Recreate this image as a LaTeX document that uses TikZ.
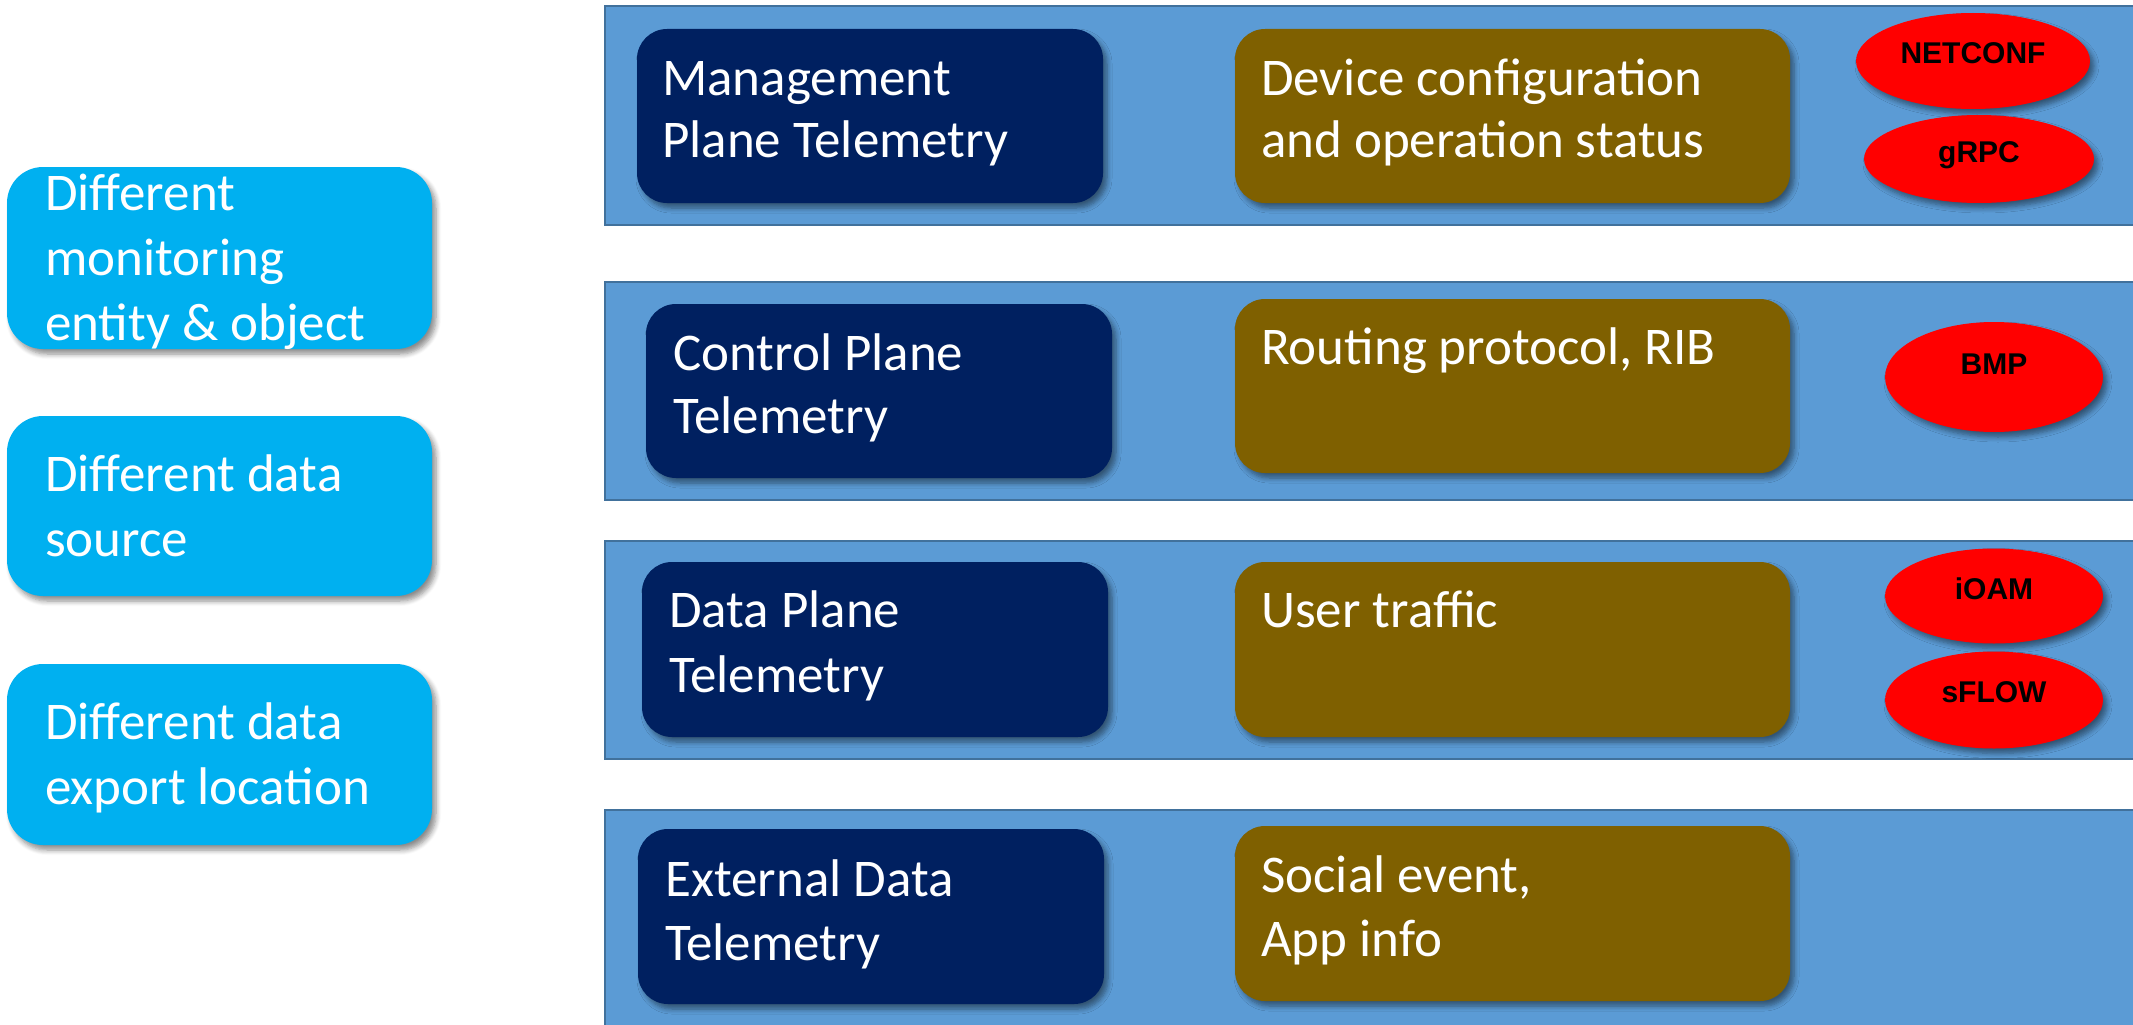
\documentclass[tikz,border=0pt]{standalone}
\usepackage{fontspec}
\setmainfont{Carlito}
\newfontfamily\arialbf{Liberation Sans}[BoldFont={* Bold}]
\usetikzlibrary{shapes.geometric,shadows.blur}
\definecolor{bandfill}{HTML}{5B9BD5}
\definecolor{banddraw}{HTML}{41719C}
\definecolor{navybox}{HTML}{002060}
\definecolor{brownbox}{HTML}{7F6000}
\definecolor{cyanbox}{HTML}{00B0F0}
\definecolor{redell}{HTML}{FF0000}
\newcommand{\firstl}{\rule{0pt}{45pt}}
\tikzset{
  shd/.style={blur shadow={shadow xshift=4pt, shadow yshift=-5pt, shadow blur radius=5pt, shadow blur steps=6, shadow opacity=45}},
  band/.style={draw=banddraw, line width=2.5pt, fill=bandfill, rectangle, inner sep=0pt},
  navy/.style={fill=navybox, rounded corners=30pt, rectangle, inner sep=0pt, minimum width=466pt, minimum height=174pt, shd},
  brown/.style={fill=brownbox, rounded corners=30pt, rectangle, inner sep=0pt, minimum width=555pt, minimum height=174pt, shd},
  leftbox/.style={fill=cyanbox, rounded corners=36pt, rectangle, inner sep=0pt, minimum width=425pt, minimum height=181pt, shd},
  txt/.style={anchor=north west, inner sep=0pt, align=left, text=white, font=\fontsize{53}{64}\selectfont},
  proto/.style={ellipse, fill=redell, inner sep=0pt, text=black, font=\arialbf\bfseries\fontsize{30}{32}\selectfont, text height=21.5pt, text depth=17pt, shd}
}
\begin{document}
\begin{tikzpicture}[x=1pt,y=-1pt]
\useasboundingbox (0,0) rectangle (2133,1025);
% bands
\node[band, minimum width=1545pt, minimum height=219pt] (b1) at (1377.5,115.5) {};
\node[band, minimum width=1545pt, minimum height=218pt] (b2) at (1377.5,391) {};
\node[band, minimum width=1545pt, minimum height=218pt] (b3) at (1377.5,650) {};
\node[band, minimum width=1545pt, minimum height=230pt] (b4) at (1377.5,925) {};
% navy boxes
\node[navy] (n1) at (870,116) {};
\node[navy] (n2) at (879,391) {};
\node[navy, minimum height=175pt] (n3) at (875,649.5) {};
\node[navy, minimum height=175pt] (n4) at (871,916.5) {};
% brown boxes
\node[brown] (r1) at (1512.5,116) {};
\node[brown] (r2) at (1512.5,386) {};
\node[brown, minimum height=175pt] (r3) at (1512.5,649.5) {};
\node[brown, minimum height=175pt] (r4) at (1512.5,913.5) {};
% left boxes
\node[leftbox, minimum height=182pt] (l1) at (219.5,258) {};
\node[leftbox, minimum height=180pt] (l2) at (219.5,506) {};
\node[leftbox] (l3) at (219.5,754.5) {};
% texts
\node[txt, font=\fontsize{53}{62}\selectfont] (n1t) at (662,50) {\firstl Management\\Plane Telemetry};
\node[txt, font=\fontsize{53}{63}\selectfont] (n2t) at (673,325) {\firstl Control Plane\\Telemetry};
\node[txt, font=\fontsize{53}{65}\selectfont] (n3t) at (669,582) {\firstl Data Plane\\Telemetry};
\node[txt] (n4t) at (665,851) {\firstl External Data\\Telemetry};
\node[txt, font=\fontsize{53}{62}\selectfont] (r1t) at (1261,50) {\firstl Device configuration\\and operation status};
\node[txt] (r2t) at (1261,319) {\firstl Routing protocol, RIB};
\node[txt] (r3t) at (1261,582) {\firstl User traffic};
\node[txt] (r4t) at (1261,847) {\firstl Social event,\\App info};
\node[txt, font=\fontsize{53}{65}\selectfont] (l1t) at (45,165) {\firstl Different\\monitoring\\entity \& object};
\node[txt, font=\fontsize{53}{65}\selectfont] (l2t) at (45,446) {\firstl Different data\\source};
\node[txt, font=\fontsize{53}{65}\selectfont] (l3t) at (45,694) {\firstl Different data\\export location};
% protocols
\node[proto, minimum width=234pt, minimum height=96pt] (netconf) at (1973,61) {NETCONF};
\node[proto, minimum width=230pt, minimum height=88pt, text depth=15pt] (grpc) at (1979,159) {gRPC};
\node[proto, minimum width=218pt, minimum height=110pt, text depth=27pt] (bmp) at (1994,377) {BMP};
\node[proto, minimum width=218pt, minimum height=95pt, text depth=15pt] (ioam) at (1994,596) {iOAM};
\node[proto, minimum width=218pt, minimum height=97pt] (sflow) at (1994,700) {sFLOW};
\end{tikzpicture}
\end{document}
